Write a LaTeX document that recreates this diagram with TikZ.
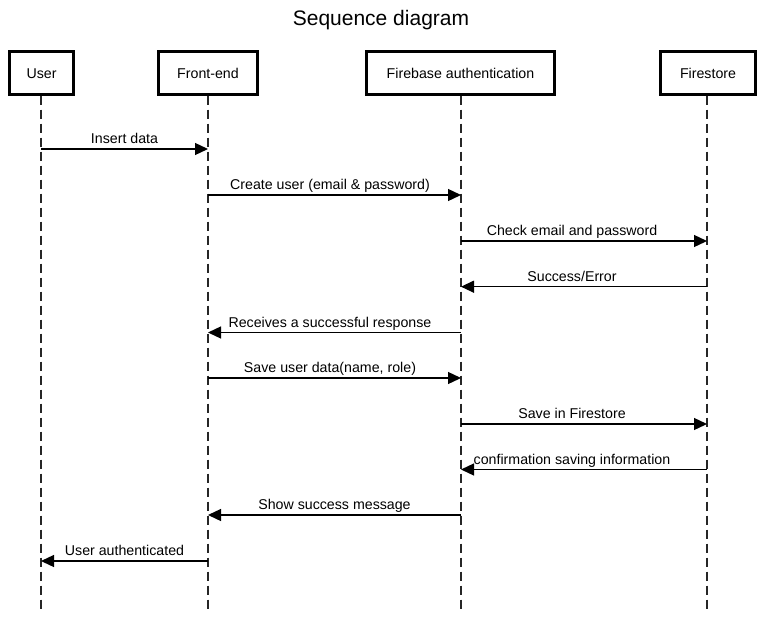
\documentclass[tikz,border=0pt]{standalone}
\usepackage{fontspec}
\setmainfont{Liberation Sans}
\usetikzlibrary{arrows.meta}
\begin{document}
\begin{tikzpicture}[x=1pt,y=-1pt,
  actor/.style={draw=black, line width=2.2pt, minimum height=43pt, inner sep=0pt,
    font=\fontsize{14.2pt}{16pt}\selectfont, text height=10pt, text depth=0pt},
  life/.style={line width=1.5pt, dash pattern=on 9pt off 5pt, draw=black!85},
  msg/.style={line width=1.3pt, -{Triangle[length=13pt,width=12pt]}},
  lbl/.style={anchor=base, yshift=5.5pt, font=\fontsize{14.2pt}{16pt}\selectfont, inner sep=0pt}]
\fill[white] (0,0) rectangle (762,618);
\useasboundingbox (0,0) rectangle (762,618);

\node[anchor=base, font=\fontsize{21pt}{24pt}\selectfont, inner sep=0pt] (title) at (381,25.7) {Sequence diagram};

\node[actor, minimum width=64pt]  (u)  at (41.5,73) {User};
\node[actor, minimum width=99pt]  (f)  at (208,73)  {Front-end};
\node[actor, minimum width=188pt] (fa) at (460.5,73) {Firebase authentication};
\node[actor, minimum width=95pt]  (fs) at (708,73)  {Firestore};

\coordinate (bot) at (0,613);
\draw[life] ([xshift=-0.5pt]u.south) -- ([xshift=-0.5pt]u.south |- bot);
\draw[life] (f.south) -- (f.south |- bot);
\draw[life] ([xshift=0.5pt]fa.south) -- ([xshift=0.5pt]fa.south |- bot);
\draw[life] ([xshift=-1pt]fs.south) -- ([xshift=-1pt]fs.south |- bot);

\coordinate (r1) at (0,149);
\coordinate (r2) at (0,195);
\coordinate (r3) at (0,241);
\coordinate (r4) at (0,286.7);
\coordinate (r5) at (0,332.5);
\coordinate (r6) at (0,378);
\coordinate (r7) at (0,424);
\coordinate (r8) at (0,469.5);
\coordinate (r9) at (0,515);
\coordinate (r10) at (0,561);

\coordinate (lu) at (41,0);
\coordinate (lf) at (208,0);
\coordinate (lfa) at (461,0);
\coordinate (lfs) at (707,0);

\draw[msg] (lu |- r1) -- node[lbl] (m1) {Insert data} (lf |- r1);
\draw[msg] (lf |- r2) -- node[lbl, xshift=-4.5pt] (m2) {Create user (email \& password)} (lfa |- r2);
\draw[msg] (lfa |- r3) -- node[lbl, xshift=-12pt] (m3) {Check email and password} (lfs |- r3);
\draw[msg] (lfs |- r4) -- node[lbl, xshift=-12pt] (m4) {Success/Error} (lfa |- r4);
\draw[msg] (lfa |- r5) -- node[lbl, xshift=-4.5pt] (m5) {Receives a successful response} (lf |- r5);
\draw[msg] (lf |- r6) -- node[lbl, xshift=-4.5pt] (m6) {Save user data(name, role)} (lfa |- r6);
\draw[msg] (lfa |- r7) -- node[lbl, xshift=-12pt] (m7) {Save in Firestore} (lfs |- r7);
\draw[msg] (lfs |- r8) -- node[lbl, xshift=-12pt] (m8) {confirmation saving information} (lfa |- r8);
\draw[msg] (lfa |- r9) -- node[lbl] (m9) {Show success message} (lf |- r9);
\draw[msg] (lf |- r10) -- node[lbl] (m10) {User authenticated} (lu |- r10);
\end{tikzpicture}
\end{document}
